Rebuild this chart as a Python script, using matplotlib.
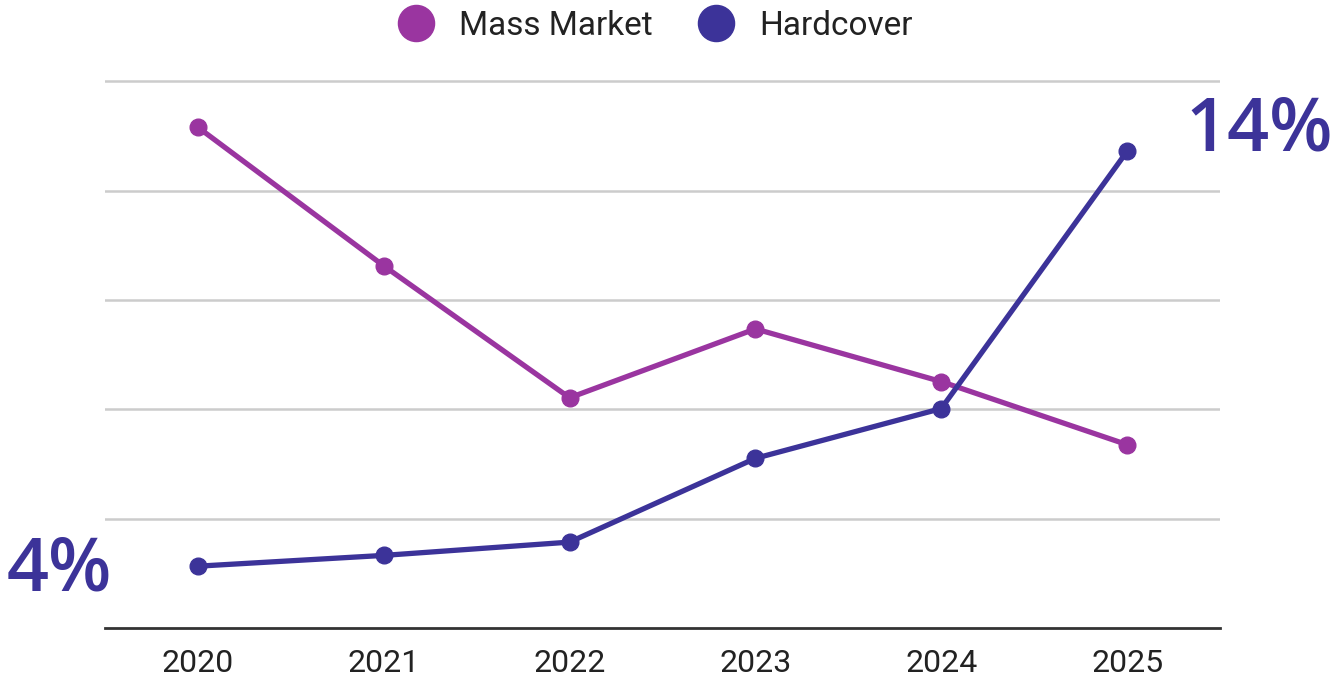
import matplotlib.pyplot as plt
from matplotlib.lines import Line2D

# data (percent share)
years = ['2020', '2021', '2022', '2023', '2024', '2025']
mass_market = [14.58, 11.24, 8.06, 9.72, 8.45, 6.93]
hardcover = [4.0, 4.26, 4.58, 6.6, 7.8, 14.0]

c_mass = '#9a35a0'
c_hard = '#3c3399'

plt.rcParams['font.family'] = ['Roboto', 'DejaVu Sans']

fig = plt.figure(figsize=(13.38, 6.77), dpi=100)
ax = fig.add_axes([0.0785, 0.0724, 0.8333, 0.8094])

x = list(range(len(years)))
ax.plot(x, mass_market, color=c_mass, lw=3.8, marker='o', ms=12, zorder=3)
ax.plot(x, hardcover, color=c_hard, lw=3.8, marker='o', ms=12, zorder=4)

# axis styling: hidden y labels, light grid
y0 = 2.51
step = 2.636
ax.set_ylim(y0, y0 + 5 * step + 0.03)
ax.set_xlim(-0.5, 5.5)
ax.set_yticks([y0 + k * step for k in range(1, 6)])
ax.set_yticklabels([])
ax.tick_params(axis='y', length=0)
ax.grid(axis='y', color='#cccccc', lw=1.8)
ax.set_xticks(x)
ax.set_xticklabels(years, fontsize=23, color='#222222')
ax.tick_params(axis='x', length=0, pad=15)
for s in ['top', 'right', 'left']:
    ax.spines[s].set_visible(False)
ax.spines['bottom'].set_color('#333333')
ax.spines['bottom'].set_linewidth(2)
ax.set_axisbelow(True)

# end labels
ax.annotate('14%', xy=(x[-1], hardcover[-1]), xytext=(42, 14), textcoords='offset points',
            ha='left', va='center', fontsize=53, color=c_hard,
            family='Open Sans', fontweight='semibold', annotation_clip=False)
ax.annotate('4%', xy=(x[0], hardcover[0]), xytext=(-62, -4), textcoords='offset points',
            ha='right', va='center', fontsize=53, color=c_hard,
            family='Open Sans', fontweight='semibold', annotation_clip=False)

# legend
handles = [Line2D([0], [0], color=c_mass, marker='o', ls='', ms=26, label='Mass Market'),
           Line2D([0], [0], color=c_hard, marker='o', ls='', ms=26, label='Hardcover')]
fig.legend(handles=handles, loc='upper center', bbox_to_anchor=(0.484, 1.03), ncol=2,
           frameon=False, fontsize=24, handlelength=2.0, handletextpad=0.3,
           columnspacing=0.9, labelcolor='#222222')

plt.savefig('out.png', dpi=100)
